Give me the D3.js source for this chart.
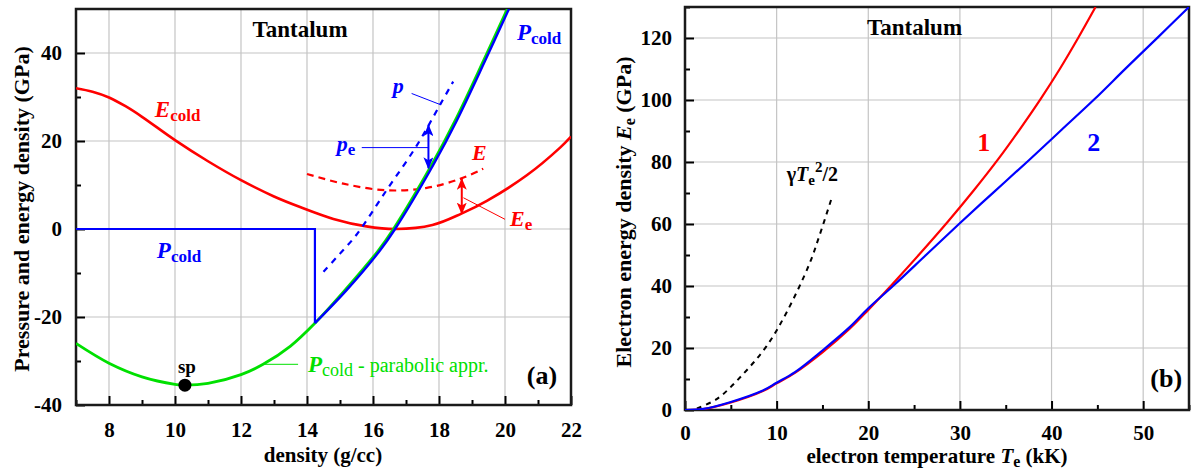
<!DOCTYPE html>
<html>
<head>
<meta charset="utf-8">
<script src="https://cdn.jsdelivr.net/npm/d3@7"></script>
<style>
  body { margin: 0; background: #fff; }
  svg text { font-family: "Liberation Serif", serif; font-weight: bold; }
</style>
</head>
<body>
<svg id="chart" width="1194" height="473"></svg>
<script>
// ---------- panel (a): density (g/cc) vs pressure / energy density (GPa)
var densityMajor = [8, 10, 12, 14, 16, 18, 20, 22];
var densityMinor = [7, 9, 11, 13, 15, 17, 19, 21];
var pressMajor = [-40, -20, 0, 20, 40];
var pressMinor = [-30, -10, 10, 30];

var eCold = [[7, 32], [7.5, 31.2], [8, 29.9], [8.5, 27.9], [9, 25.5], [10, 20.2], [11, 15.4], [12, 11.1],
  [13, 7.4], [13.79, 5], [14.8, 2.3], [15.8, 0.6], [16.7, 0], [17.8, 0.9], [18.68, 3.5], [19.45, 6.4],
  [20.66, 12.2], [21.67, 18.5], [22, 21]];
var pColdStep = [[7, 0], [14.24, 0], [14.24, -21.4]];
var pCold = [[14.24, -21.4], [15.2, -13.9], [16.2, -5.0], [16.67, 0], [17.83, 14.6], [18.53, 24.5],
  [19.39, 38.1], [20.12, 50]];
var pColdParabolic = [[7, -26], [8, -30.5], [9, -33.6], [10, -35.3], [10.3, -35.5], [11, -35.1],
  [12, -33.1], [12.67, -30.75], [13.5, -26.6], [14.24, -21.4], [15.15, -13.9], [16.15, -5.0],
  [16.62, 0], [17.78, 14.6], [18.48, 24.5], [19.34, 38.1], [20.07, 50]];
var pTotal = [[14.5, -9.7], [15, -5.6], [15.5, -1.3], [16.4, 8.7], [17.32, 18.9], [18.03, 28.2], [18.43, 33.5]];
var eTotal = [[14, 12.5], [15.1, 10.3], [16.4, 8.8], [17.6, 9.3], [18.64, 11.4], [19.34, 13.7]];
var spinodal = [10.3, -35.5];

// ---------- panel (b): electron temperature (kK) vs electron energy (GPa)
var tempMajor = [0, 10, 20, 30, 40, 50];
var tempMinor = [5, 15, 25, 35, 45, 55];
var energyMajor = [0, 20, 40, 60, 80, 100, 120];
var energyMinor = [10, 30, 50, 70, 90, 110, 130];

var curve1 = [[0, 0], [2, 0.3], [5, 2.4], [8.5, 6.1], [10, 8.6], [12, 12], [15, 18.6], [18, 26.3],
  [20, 32.3], [22.6, 40.5], [25.6, 50.3], [28.7, 60.8], [31.5, 70.8], [34.2, 81], [36.5, 90.4],
  [38.8, 100.3], [40.9, 110], [42.9, 120], [44.8, 130]];
var curve2 = [[0, 0], [2, 0.35], [5, 2.6], [8.5, 6.3], [10, 8.8], [12, 12.2], [15, 19.2], [18, 26.8],
  [20, 32.8], [22.7, 40], [26.3, 50], [29.9, 60], [33.7, 70.3], [37.5, 80.5], [41.1, 90.4],
  [44.7, 100.3], [48.1, 110.2], [51.6, 120.2], [55, 130]];
var gammaCurve = [[1.3, 0.5], [3.5, 3.6], [6.35, 11.6], [8.9, 20.6], [11.07, 31.4], [13.6, 47.3],
  [14.7, 56.5], [16, 68.3]];

var RED = "#ff0000", BLUE = "#0000ff", GREEN = "#00e000";
var FONT = "'Liberation Serif', serif";

var svg = d3.select("#chart");

// arrow heads
var defs = svg.append("defs");
[["arrRed", RED], ["arrBlue", BLUE]].forEach(function (m) {
  defs.append("marker")
    .attr("id", m[0])
    .attr("markerUnits", "userSpaceOnUse")
    .attr("markerWidth", 12).attr("markerHeight", 10)
    .attr("refX", 11).attr("refY", 5)
    .attr("orient", "auto-start-reverse")
    .append("path")
    .attr("d", "M0,0 L12,5 L0,10 L3,5 Z")
    .attr("fill", m[1]);
});

// rich text: parts = [{t, it, w, size, off}] off = vertical offset (px, + is down)
function rich(g, x, y, parts, anchor, color) {
  var text = g.append("text").attr("x", x).attr("y", y)
    .attr("text-anchor", anchor || "start").attr("fill", color || "#000")
    .style("font-family", FONT);
  var cur = 0;
  parts.forEach(function (p) {
    var off = p.off || 0;
    text.append("tspan")
      .attr("dy", off - cur)
      .style("font-style", p.it ? "italic" : "normal")
      .style("font-weight", p.w || "bold")
      .style("font-size", p.size + "px")
      .text(p.t);
    cur = off;
  });
  return text;
}

function frame(x, y, xMajor, xMinor, yMajor, yMinor, xPad, yPad) {
  var g = svg.append("g");
  var x0 = x.range()[0], x1 = x.range()[1], y0 = y.range()[0], y1 = y.range()[1];
  // grid
  g.selectAll(".gx").data(xMajor.filter(function (d) { return d > x.domain()[0] && d < x.domain()[1]; }))
    .enter().append("line")
    .attr("x1", x).attr("x2", x).attr("y1", y0).attr("y2", y1)
    .attr("stroke", "#c4c4c4").attr("stroke-width", 1.2);
  g.selectAll(".gy").data(yMajor.filter(function (d) { return d > y.domain()[0] && d < y.domain()[1]; }))
    .enter().append("line")
    .attr("y1", y).attr("y2", y).attr("x1", x0).attr("x2", x1)
    .attr("stroke", "#c4c4c4").attr("stroke-width", 1.2);

  var fmt = function (d) { return String(d); };
  var bx = g.append("g").attr("transform", "translate(0," + y0 + ")")
    .call(d3.axisBottom(x).tickValues(xMajor).tickSize(-9).tickPadding(xPad).tickFormat(fmt));
  var bxm = g.append("g").attr("transform", "translate(0," + y0 + ")")
    .call(d3.axisBottom(x).tickValues(xMinor).tickSize(-5).tickFormat(""));
  var ly = g.append("g").attr("transform", "translate(" + x0 + ",0)")
    .call(d3.axisLeft(y).tickValues(yMajor).tickSize(-9).tickPadding(yPad).tickFormat(fmt));
  var lym = g.append("g").attr("transform", "translate(" + x0 + ",0)")
    .call(d3.axisLeft(y).tickValues(yMinor).tickSize(-5).tickFormat(""));
  [bx, bxm, ly, lym].forEach(function (a) {
    a.attr("font-family", null);
    a.select(".domain").remove();
    a.selectAll("line").attr("stroke", "#000").attr("stroke-width", 2);
    a.selectAll("text").attr("fill", "#000").style("font-size", "21px")
      .style("font-family", FONT).style("font-weight", "bold");
  });
  g.append("rect")
    .attr("x", x0).attr("y", y1).attr("width", x1 - x0).attr("height", y0 - y1)
    .attr("fill", "none").attr("stroke", "#1a1a1a").attr("stroke-width", 2.5);
  return g;
}

function path(g, data, x, y, color, width, dash, curve) {
  var line = d3.line().x(function (d) { return x(d[0]); }).y(function (d) { return y(d[1]); })
    .curve(curve || d3.curveCatmullRom.alpha(0.5));
  return g.append("path").datum(data).attr("d", line)
    .attr("fill", "none").attr("stroke", color).attr("stroke-width", width)
    .attr("stroke-dasharray", dash || null);
}

// ================= panel (a)
var xa = d3.scaleLinear().domain([7, 22]).range([76, 571]);
var ya = d3.scaleLinear().domain([-40, 50]).range([405, 9]);
frame(xa, ya, densityMajor, densityMinor, pressMajor, pressMinor, 17, 14);

var ga = svg.append("g");
var clipA = defs.append("clipPath").attr("id", "clipA");
clipA.append("rect").attr("x", 76).attr("y", 9).attr("width", 495).attr("height", 396);
var ca = ga.append("g").attr("clip-path", "url(#clipA)");

path(ca, eCold, xa, ya, RED, 2.6);
path(ca, eTotal, xa, ya, RED, 2.2, "7,5");
path(ca, pTotal, xa, ya, BLUE, 2.2, "6,6");
path(ca, pColdParabolic, xa, ya, GREEN, 2.8);
path(ca, pColdStep, xa, ya, BLUE, 2.2, null, d3.curveLinear);
path(ca, pCold, xa, ya, BLUE, 2.4);

// double arrows p_e and E_e
ga.append("line").attr("x1", xa(17.68)).attr("x2", xa(17.68)).attr("y1", ya(23.6)).attr("y2", ya(13.8))
  .attr("stroke", BLUE).attr("stroke-width", 2)
  .attr("marker-start", "url(#arrBlue)").attr("marker-end", "url(#arrBlue)");
ga.append("line").attr("x1", xa(18.69)).attr("x2", xa(18.69)).attr("y1", ya(11.4)).attr("y2", ya(3.5))
  .attr("stroke", RED).attr("stroke-width", 2)
  .attr("marker-start", "url(#arrRed)").attr("marker-end", "url(#arrRed)");

// leader lines
function leader(g, x, y, a, b, color) {
  g.append("line").attr("x1", x(a[0])).attr("y1", y(a[1])).attr("x2", x(b[0])).attr("y2", y(b[1]))
    .attr("stroke", color).attr("stroke-width", 1);
}
leader(ga, xa, ya, [17.17, 30.8], [18.03, 28.3], BLUE);
leader(ga, xa, ya, [15.66, 18.5], [17.68, 18.5], BLUE);
leader(ga, xa, ya, [18.74, 7.1], [20.0, 2.2], RED);
leader(ga, xa, ya, [12.67, -30.75], [13.73, -30.75], GREEN);

ga.append("circle").attr("cx", xa(spinodal[0])).attr("cy", ya(spinodal[1])).attr("r", 6.5).attr("fill", "#000");

rich(ga, xa(13.79), ya(43.6), [{ t: "Tantalum", size: 23 }], "middle");
rich(ga, xa(20.36), ya(43), [{ t: "P", it: 1, size: 23 }, { t: "cold", size: 17, off: 4 }], "start", BLUE);
rich(ga, xa(9.39), ya(25.5), [{ t: "E", it: 1, size: 23 }, { t: "cold", size: 17, off: 4 }], "start", RED);
rich(ga, xa(9.45), ya(-6.6), [{ t: "P", it: 1, size: 23 }, { t: "cold", size: 17, off: 4 }], "start", BLUE);
rich(ga, xa(16.6), ya(30.9), [{ t: "p", it: 1, size: 22 }], "start", BLUE);
rich(ga, xa(14.9), ya(17.7), [{ t: "p", it: 1, size: 22 }, { t: "e", size: 17, off: 4 }], "start", BLUE);
rich(ga, xa(19.0), ya(15.7), [{ t: "E", it: 1, size: 22 }], "start", RED);
rich(ga, xa(20.15), ya(0.7), [{ t: "E", it: 1, size: 22 }, { t: "e", size: 17, off: 4 }], "start", RED);
rich(ga, xa(10.36), ya(-32.7), [{ t: "sp", size: 19 }], "middle");
rich(ga, xa(14.03), ya(-32.5), [{ t: "P", it: 1, size: 23 }, { t: "cold", size: 18, w: "normal", off: 4 },
  { t: " - parabolic appr.", size: 20, w: "normal", off: 0 }], "start", GREEN);
rich(ga, xa(21.58), ya(-35.2), [{ t: "(a)", size: 26 }], "end");

rich(svg, 323, 462, [{ t: "density (g/cc)", size: 21 }], "middle");
rich(svg, 0, 0, [{ t: "Pressure and energy density (GPa)", size: 22 }], "middle")
  .attr("transform", "translate(29,209) rotate(-90)");

// ================= panel (b)
var xb = d3.scaleLinear().domain([0, 55]).range([685, 1189]);
var yb = d3.scaleLinear().domain([0, 130]).range([410, 7]);
frame(xb, yb, tempMajor, tempMinor, energyMajor, energyMinor, 15, 13);

var gb = svg.append("g");
var clipB = defs.append("clipPath").attr("id", "clipB");
clipB.append("rect").attr("x", 685).attr("y", 7).attr("width", 504).attr("height", 403);
var cb = gb.append("g").attr("clip-path", "url(#clipB)");

path(cb, gammaCurve, xb, yb, "#000", 2, "5,5");
path(cb, curve1, xb, yb, RED, 2.2);
path(cb, curve2, xb, yb, BLUE, 2.2);

rich(gb, xb(25.05), yb(121), [{ t: "Tantalum", size: 23 }], "middle");
rich(gb, xb(31.9), yb(83.5), [{ t: "1", size: 26 }], "start", RED);
rich(gb, xb(43.9), yb(83.5), [{ t: "2", size: 26 }], "start", BLUE);
rich(gb, xb(11.1), yb(73.9), [{ t: "\u03b3", size: 20 }, { t: "T", it: 1, size: 20 },
  { t: "e", size: 15, off: 4 }, { t: "2", size: 15, off: -9 }, { t: "/2", size: 20, off: 0 }], "start");
rich(gb, xb(54.25), yb(7.4), [{ t: "(b)", size: 26 }], "end");

rich(svg, 937, 463, [{ t: "electron temperature ", size: 21 }, { t: "T", it: 1, size: 21 },
  { t: "e", size: 16, off: 4 }, { t: " (kK)", size: 21, off: 0 }], "middle");
rich(svg, 0, 0, [{ t: "Electron energy density ", size: 22 }, { t: "E", it: 1, size: 22 },
  { t: "e", size: 16, off: 4 }, { t: " (GPa)", size: 22, off: 0 }], "middle")
  .attr("transform", "translate(631,212) rotate(-90)");
</script>
</body>
</html>
